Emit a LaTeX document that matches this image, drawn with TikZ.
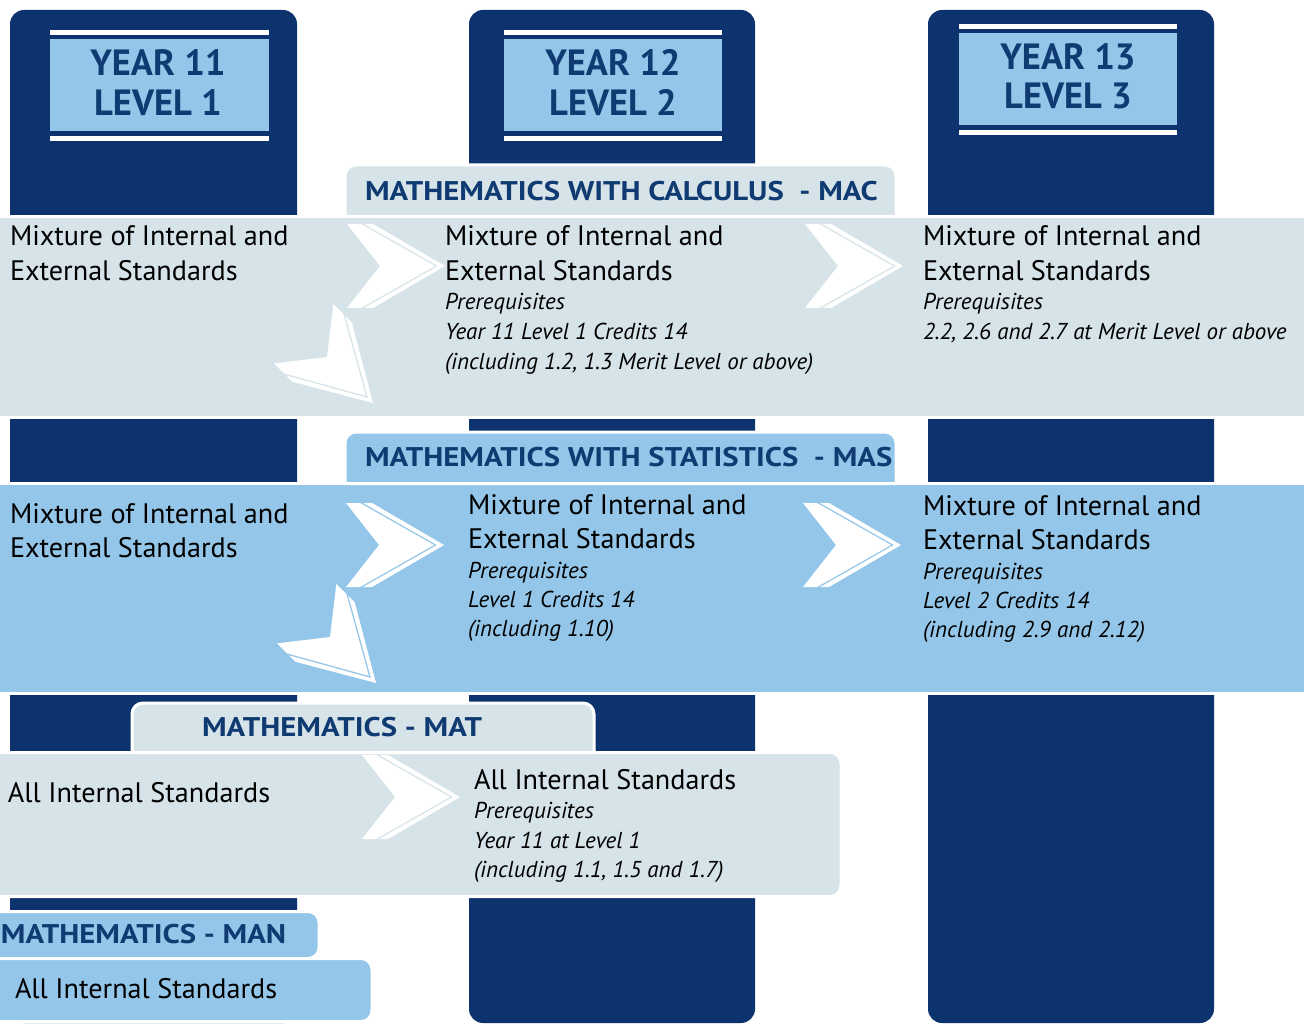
\documentclass[tikz,border=0pt]{standalone}
\usepackage{fontspec}
\setmainfont{PT Sans}
\newfontfamily\hdfam[FakeStretch=1.14]{PT Sans}
\definecolor{navy}{HTML}{0C336E}
\definecolor{hnavy}{HTML}{0F3A72}
\definecolor{lblue}{HTML}{93C6E8}
\definecolor{lgray}{HTML}{D6E3E8}
\newcommand\myBody{\fontsize{28.2}{35}\selectfont}
\newcommand\myIt{\fontsize{23}{29}\selectfont\itshape}
\newcommand\myHead{\hdfam\fontsize{27}{30}\selectfont\bfseries}
\newcommand\myYear{\fontsize{36.5}{40}\selectfont\bfseries}
\newcommand\mychev[3]{%
  \begin{scope}[shift={(#1,#2)},rotate=#3]
    \fill[white] (-33,-42) -- (-19,-42) -- (55,0) -- (-19,42) -- (-33,42) -- (0,0) -- cycle;
    \fill[white] (-16,-42) -- (-7,-42) -- (65,0) -- (-7,42) -- (-16,42) -- (58,0) -- cycle;
  \end{scope}}
\newcommand\yearhead[3]{% left, right, top
  \fill[white] (#1,#3) rectangle (#2,#3+5);
  \fill[lblue] (#1,#3+9) rectangle (#2,#3+101);
  \fill[white] (#1,#3+106) rectangle (#2,#3+111);
}
\tikzset{
  colbar/.style={fill=navy, rounded corners=14pt},
  bandgray/.style={fill=lgray, draw=white, line width=3pt},
  bandblue/.style={fill=lblue, draw=white, line width=3pt},
  body/.style={anchor=base west, font=\myBody, text=black},
  ital/.style={anchor=base west, font=\myIt, text=black},
  head/.style={anchor=base west, font=\myHead, text=hnavy},
  yearlbl/.style={anchor=base, font=\myYear, text=hnavy},
}
\begin{document}
\begin{tikzpicture}[x=1pt,y=-1pt, every node/.style={inner sep=0pt, outer sep=0pt}]
\path[use as bounding box] (0,0) rectangle (1304,1024);
\clip (0,0) rectangle (1304,1024);
\fill[white] (0,0) rectangle (1304,1024);

% columns
\fill[colbar] (10,10) rectangle (297,1023);
\fill[colbar] (469,10) rectangle (755,1023);
\fill[colbar] (928,10) rectangle (1214,1023);

% year headers
\yearhead{50}{269}{30}
\yearhead{504}{722}{30}
\yearhead{959}{1177}{24}
\node[yearlbl] (y1a) at (158,76) {YEAR 11};
\node[yearlbl] (y1b) at (158,116) {LEVEL 1};
\node[yearlbl] (y2a) at (613,76) {YEAR 12};
\node[yearlbl] (y2b) at (613,116) {LEVEL 2};
\node[yearlbl] (y3a) at (1068,70) {YEAR 13};
\node[yearlbl] (y3b) at (1068,109) {LEVEL 3};

% MAC band
\filldraw[bandgray] (-5,216.5) rectangle (1310,417.5);
\filldraw[bandgray] (345,216.5) [rounded corners=11pt] -- (345,165) -- (896,165) [sharp corners] -- (896,216.5) -- cycle;
\node[head] (machead) at (365,201) {MATHEMATICS WITH CALCULUS \ - MAC};
\mychev{380}{266}{0}
\mychev{838}{266}{0}
\mychev{327}{357}{-45}
\node[body] (mac1a) at (10,246) {Mixture of Internal and};
\node[body] (mac1b) at (10,281) {External Standards};
\node[body] (mac2a) at (445,246) {Mixture of Internal and};
\node[body] (mac2b) at (445,281) {External Standards};
\node[ital] (mac2c) at (445,310) {Prerequisites};
\node[ital] (mac2d) at (445,340) {Year 11 Level 1 Credits 14};
\node[ital] (mac2e) at (445,369) {(including 1.2, 1.3 Merit Level or above)};
\node[body] (mac3a) at (923,246) {Mixture of Internal and};
\node[body] (mac3b) at (923,281) {External Standards};
\node[ital] (mac3c) at (923,310) {Prerequisites};
\node[ital] (mac3d) at (923,340) {2.2, 2.6 and 2.7 at Merit Level or above};

% MAS band
\filldraw[bandblue] (-5,483.5) rectangle (1310,693.5);
\filldraw[bandblue] (345,483.5) [rounded corners=11pt] -- (345,432) -- (896,432) [sharp corners] -- (896,483.5) -- cycle;
\node[head] (mashead) at (365,466) {MATHEMATICS WITH STATISTICS \ - MAS};
\mychev{379}{545}{0}
\mychev{836}{545}{0}
\mychev{330}{637}{-45}
\node[body] (mas1a) at (10,523) {Mixture of Internal and};
\node[body] (mas1b) at (10,557) {External Standards};
\node[body] (mas2a) at (468,514) {Mixture of Internal and};
\node[body] (mas2b) at (468,548) {External Standards};
\node[ital] (mas2c) at (468,578) {Prerequisites};
\node[ital] (mas2d) at (468,607) {Level 1 Credits 14};
\node[ital] (mas2e) at (468,636) {(including 1.10)};
\node[body] (mas3a) at (923,515) {Mixture of Internal and};
\node[body] (mas3b) at (923,549) {External Standards};
\node[ital] (mas3c) at (923,579) {Prerequisites};
\node[ital] (mas3d) at (923,608) {Level 2 Credits 14};
\node[ital] (mas3e) at (923,637) {(including 2.9 and 2.12)};

% MAT band
\filldraw[bandgray] (-5,752.5) [rounded corners=11pt] -- (841,752.5) -- (841,896.5) [sharp corners] -- (-5,896.5) -- cycle;
\filldraw[bandgray] (132,752.5) [rounded corners=11pt] -- (132,703) -- (594,703) [sharp corners] -- (594,752.5) -- cycle;
\node[head] (mathead) at (202,736) {MATHEMATICS - MAT};
\mychev{395}{797}{0}
\node[body] (mat1a) at (8,802) {All Internal Standards};
\node[body] (mat2a) at (474,789) {All Internal Standards};
\node[ital] (mat2b) at (474,818) {Prerequisites};
\node[ital] (mat2c) at (474,848) {Year 11 at Level 1};
\node[ital] (mat2d) at (474,877) {(including 1.1, 1.5 and 1.7)};

% MAN band
\filldraw[bandblue] (-5,958.5) [rounded corners=11pt] -- (319,958.5) -- (319,911.5) [sharp corners] -- (-5,911.5) -- cycle;
\filldraw[bandblue] (-5,958.5) [rounded corners=11pt] -- (372,958.5) -- (372,1021.5) [sharp corners] -- (-5,1021.5) -- cycle;
\node[head] (manhead) at (1,943) {MATHEMATICS - MAN};
\node[body] (man1a) at (15,998) {All Internal Standards};
\end{tikzpicture}
\end{document}
